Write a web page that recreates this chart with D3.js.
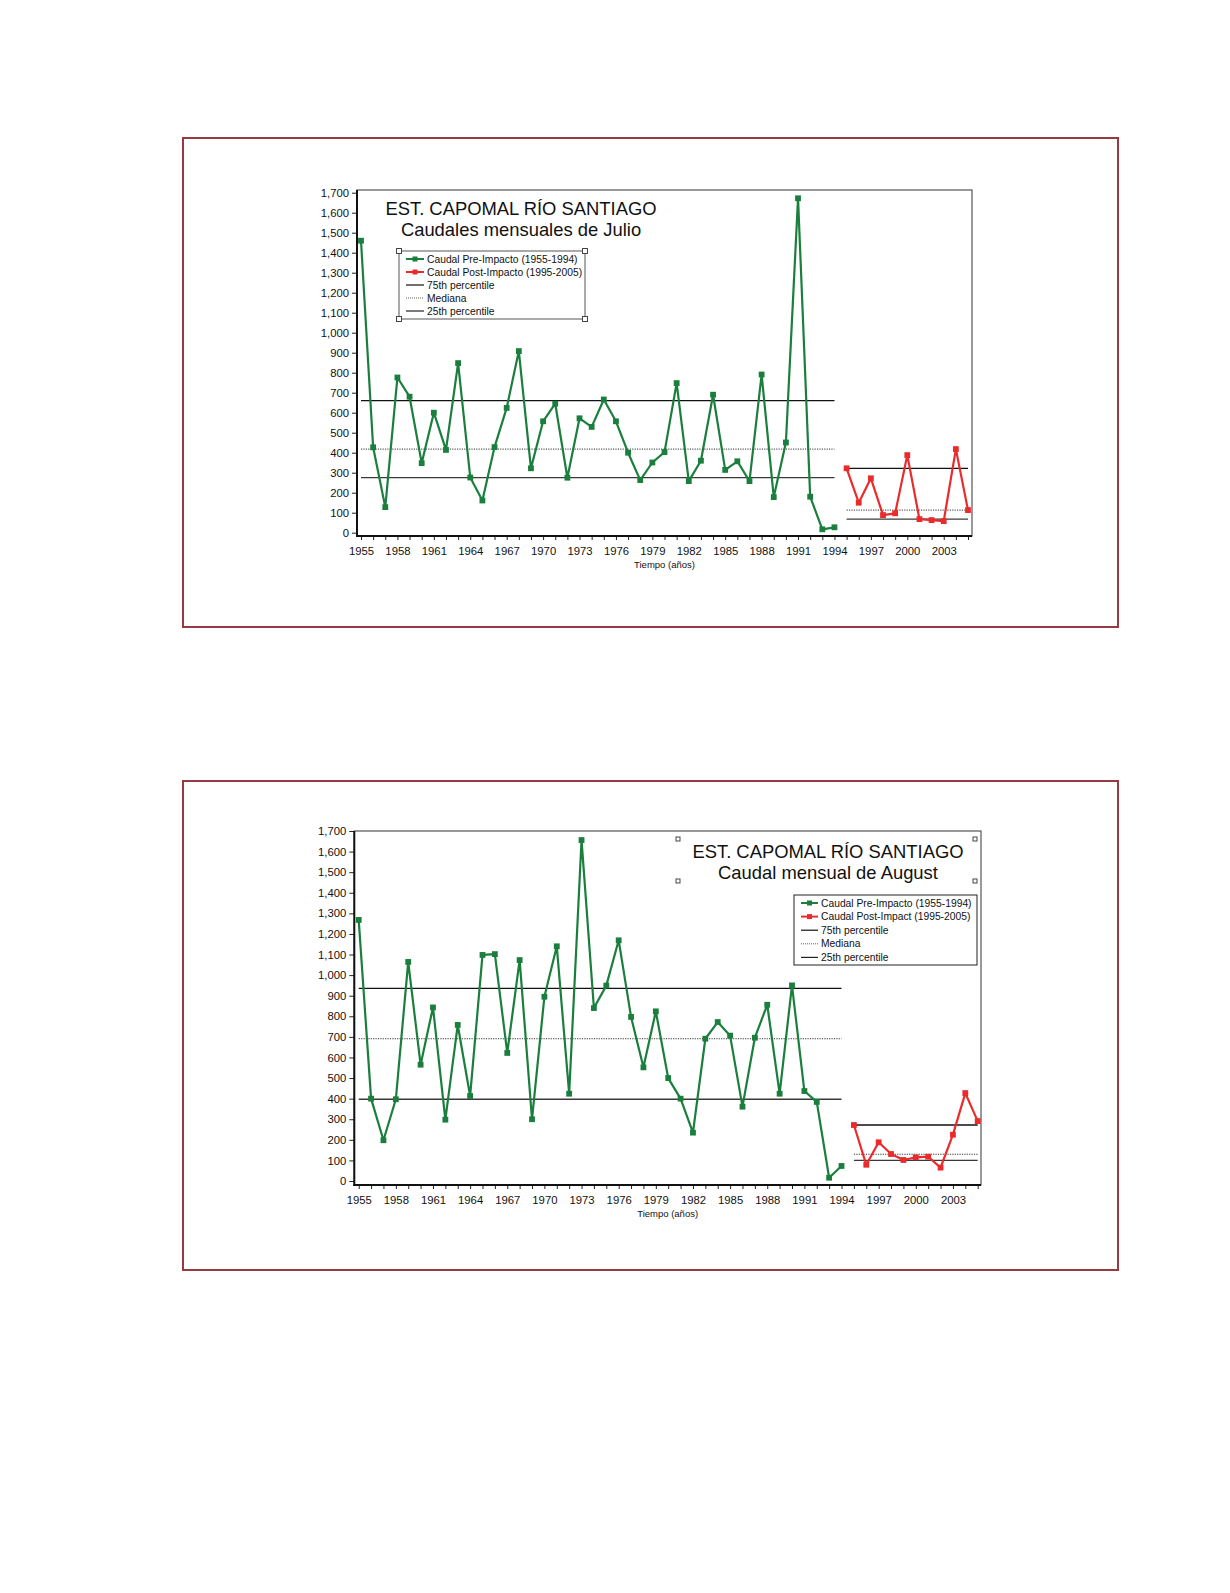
<!DOCTYPE html>
<html>
<head>
<meta charset="utf-8">
<script src="https://cdn.jsdelivr.net/npm/d3@7"></script>
<style>
  body { margin: 0; background: #fff; }
  svg { display: block; }
</style>
</head>
<body>
<script>
// years on the x axis
const preYears = [1955, 1956, 1957, 1958, 1959, 1960, 1961, 1962, 1963, 1964,
  1965, 1966, 1967, 1968, 1969, 1970, 1971, 1972, 1973, 1974,
  1975, 1976, 1977, 1978, 1979, 1980, 1981, 1982, 1983, 1984,
  1985, 1986, 1987, 1988, 1989, 1990, 1991, 1992, 1993, 1994]
const postYears = [1995, 1996, 1997, 1998, 1999, 2000, 2001, 2002, 2003, 2004, 2005]
const xLabelYears = [1955, 1958, 1961, 1964, 1967, 1970, 1973, 1976, 1979, 1982,
  1985, 1988, 1991, 1994, 1997, 2000, 2003]
const yTicks = [0, 100, 200, 300, 400, 500, 600, 700, 800, 900,
  1000, 1100, 1200, 1300, 1400, 1500, 1600, 1700]

// Julio
const julioPre = [1460, 427, 128, 776, 680, 348, 600, 414, 848, 276,
  161, 428, 624, 908, 322, 557, 645, 275, 572, 529,
  666, 557, 400, 263, 351, 403, 748, 258, 360, 690,
  314, 357, 258, 791, 178, 451, 1672, 180, 17, 27]
const julioPost = [322, 150, 272, 88, 97, 388, 68, 63, 58, 418, 113]
// 25th, median, 75th
const julioPrePct = [275, 418, 660]
const julioPostPct = [68, 113, 322]

// August
const agostoPre = [1268, 400, 198, 397, 1064, 565, 843, 298, 758, 413,
  1098, 1102, 622, 1073, 300, 895, 1140, 424, 1656, 840,
  949, 1169, 797, 552, 824, 500, 400, 235, 691, 772,
  706, 361, 696, 856, 424, 950, 437, 384, 16, 73]
const agostoPost = [272, 79, 188, 131, 102, 115, 118, 65, 225, 427, 291]
const agostoPrePct = [397, 691, 936]
const agostoPostPct = [100, 130, 272]

const green = '#1a7f3d'
const red = '#ea2b2b'
const ink = '#111'
const font = '"Liberation Sans", Arial, sans-serif'

const svg = d3.select('body').append('svg')
  .attr('width', 1230)
  .attr('height', 1593)
  .attr('font-family', font)

const drawChart = ({
  pre, post, prePct, postPct,
  title, postLabel,
  frame, plot, xAt, yAt,
  titleX, titleY,
  legend,
  titleHandles = null
}) => {
  const x = d3.scaleLinear().domain([1955, 2005]).range(xAt)
  const y = d3.scaleLinear().domain([0, 1700]).range(yAt)

  const g = svg.append('g')

  g.append('rect')
    .attr('x', frame.x).attr('y', frame.y)
    .attr('width', frame.w).attr('height', frame.h)
    .attr('fill', 'none')
    .attr('stroke', '#973a42')
    .attr('stroke-width', 2)

  // plot box
  g.append('rect')
    .attr('x', plot.left).attr('y', plot.top)
    .attr('width', plot.right - plot.left)
    .attr('height', plot.bottom - plot.top)
    .attr('fill', 'none')
    .attr('stroke', '#555')
    .attr('stroke-width', 1.2)

  const yAxis = d3.axisLeft(y)
    .tickValues(yTicks)
    .tickSize(5)
    .tickPadding(3)
    .tickFormat(d3.format(','))

  g.append('g')
    .attr('transform', `translate(${plot.left}, 0)`)
    .call(yAxis)
    .call(a => a.select('.domain').remove())
    .call(a => a.selectAll('.tick text')
      .attr('font-family', font)
      .attr('font-size', 11.3)
      .attr('fill', ink))
    .call(a => a.selectAll('.tick line').attr('stroke', '#222'))

  const xAxis = d3.axisBottom(x)
    .tickValues(preYears.concat(postYears))
    .tickSize(4)
    .tickPadding(7)
    .tickFormat(d => xLabelYears.includes(d) ? d : '')

  g.append('g')
    .attr('transform', `translate(0, ${plot.bottom})`)
    .call(xAxis)
    .call(a => a.select('.domain').remove())
    .call(a => a.selectAll('.tick text')
      .attr('font-family', font)
      .attr('font-size', 11.3)
      .attr('fill', ink))
    .call(a => a.selectAll('.tick line').attr('stroke', '#222'))

  g.append('line')
    .attr('x1', plot.left).attr('x2', plot.left)
    .attr('y1', plot.top).attr('y2', plot.bottom + 1)
    .attr('stroke', '#111').attr('stroke-width', 2)
  g.append('line')
    .attr('x1', plot.left - 1).attr('x2', plot.right)
    .attr('y1', plot.bottom).attr('y2', plot.bottom)
    .attr('stroke', '#111').attr('stroke-width', 2)

  g.append('text')
    .attr('x', (plot.left + plot.right) / 2)
    .attr('y', plot.bottom + 32)
    .attr('text-anchor', 'middle')
    .attr('font-size', 9.5)
    .attr('fill', ink)
    .text('Tiempo (años)')

  // percentile lines
  const pctLines = (pct, years) => {
    const [x1, x2] = [x(years[0]), x(years[years.length - 1])]
    pct.forEach((v, i) => {
      g.append('line')
        .attr('x1', x1).attr('x2', x2)
        .attr('y1', y(v)).attr('y2', y(v))
        .attr('stroke', i === 1 ? '#333' : (i === 0 ? '#3a3a3a' : '#111'))
        .attr('stroke-width', i === 1 ? 1 : 1.3)
        .attr('stroke-dasharray', i === 1 ? '1.2,1.2' : null)
    })
  }
  pctLines(prePct, preYears)
  pctLines(postPct, postYears)

  const line = d3.line()
    .x(d => x(d[0]))
    .y(d => y(d[1]))

  const series = (years, values, color) => {
    const pts = years.map((yr, i) => [yr, values[i]])
    g.append('path')
      .attr('d', line(pts))
      .attr('fill', 'none')
      .attr('stroke', color)
      .attr('stroke-width', 2.2)
      .attr('stroke-linejoin', 'round')
    g.append('g')
      .selectAll('rect')
      .data(pts)
      .join('rect')
      .attr('x', d => x(d[0]) - 2.9)
      .attr('y', d => y(d[1]) - 2.9)
      .attr('width', 5.8)
      .attr('height', 5.8)
      .attr('fill', color)
  }
  series(preYears, pre, green)
  series(postYears, post, red)

  // title
  g.append('text')
    .attr('x', titleX).attr('y', titleY[0])
    .attr('text-anchor', 'middle')
    .attr('font-size', 18.4)
    .attr('fill', ink)
    .text('EST. CAPOMAL RÍO SANTIAGO')
  g.append('text')
    .attr('x', titleX).attr('y', titleY[1])
    .attr('text-anchor', 'middle')
    .attr('font-size', 18.4)
    .attr('fill', ink)
    .text(title)

  const handle = (cx, cy, s) => g.append('rect')
    .attr('x', cx - s / 2).attr('y', cy - s / 2)
    .attr('width', s).attr('height', s)
    .attr('fill', '#fff')
    .attr('stroke', '#444')
    .attr('stroke-width', 1)

  if (titleHandles) {
    titleHandles.forEach(([hx, hy]) => handle(hx, hy, 4))
  }

  // legend
  const lg = g.append('g')
  lg.append('rect')
    .attr('x', legend.x).attr('y', legend.y)
    .attr('width', legend.w).attr('height', legend.h)
    .attr('fill', '#fff')
    .attr('stroke', legend.stroke)
    .attr('stroke-width', 1)

  const entries = [
    { label: 'Caudal Pre-Impacto (1955-1994)', color: green, marker: true },
    { label: postLabel, color: red, marker: true },
    { label: '75th percentile', color: '#111' },
    { label: 'Mediana', color: '#666', dash: '1,1' },
    { label: '25th percentile', color: '#222' }
  ]
  entries.forEach((e, i) => {
    const ry = legend.row0 + i * legend.step
    lg.append('line')
      .attr('x1', legend.sx[0]).attr('x2', legend.sx[1])
      .attr('y1', ry).attr('y2', ry)
      .attr('stroke', e.color)
      .attr('stroke-width', e.marker ? 2 : (e.dash ? 1 : 1.2))
      .attr('stroke-dasharray', e.dash || null)
    if (e.marker) {
      const mx = (legend.sx[0] + legend.sx[1]) / 2
      lg.append('rect')
        .attr('x', mx - 2.5).attr('y', ry - 2.5)
        .attr('width', 5).attr('height', 5)
        .attr('fill', e.color)
    }
    lg.append('text')
      .attr('x', legend.tx)
      .attr('y', ry)
      .attr('dy', '0.35em')
      .attr('font-size', 10.3)
      .attr('fill', ink)
      .text(e.label)
  })

  if (legend.handles) {
    [[legend.x, legend.y], [legend.x + legend.w, legend.y],
      [legend.x, legend.y + legend.h], [legend.x + legend.w, legend.y + legend.h]]
      .forEach(([hx, hy]) => handle(hx, hy, 5))
  }
}

drawChart({
  pre: julioPre,
  post: julioPost,
  prePct: julioPrePct,
  postPct: julioPostPct,
  title: 'Caudales mensuales de Julio',
  postLabel: 'Caudal Post-Impacto (1995-2005)',
  frame: { x: 183, y: 138, w: 935, h: 489 },
  plot: { left: 357, right: 972, top: 190, bottom: 536 },
  xAt: [361, 968],
  yAt: [532.7, 192.7],
  titleX: 521,
  titleY: [215, 236],
  legend: {
    x: 399, y: 251, w: 186, h: 68,
    row0: 259, step: 13,
    sx: [406, 424], tx: 427,
    stroke: '#555', handles: true
  }
})

drawChart({
  pre: agostoPre,
  post: agostoPost,
  prePct: agostoPrePct,
  postPct: agostoPostPct,
  title: 'Caudal mensual de August',
  postLabel: 'Caudal Post-Impact (1995-2005)',
  frame: { x: 183, y: 781, w: 935, h: 489 },
  plot: { left: 354.3, right: 981, top: 831, bottom: 1185 },
  xAt: [358.7, 977.7],
  yAt: [1181, 831],
  titleX: 828,
  titleY: [858, 879],
  titleHandles: [[678, 839], [975, 839], [678, 881], [975, 881]],
  legend: {
    x: 794, y: 895, w: 183, h: 70,
    row0: 903, step: 13.6,
    sx: [801, 818], tx: 821,
    stroke: '#222', handles: false
  }
})
</script>
</body>
</html>
